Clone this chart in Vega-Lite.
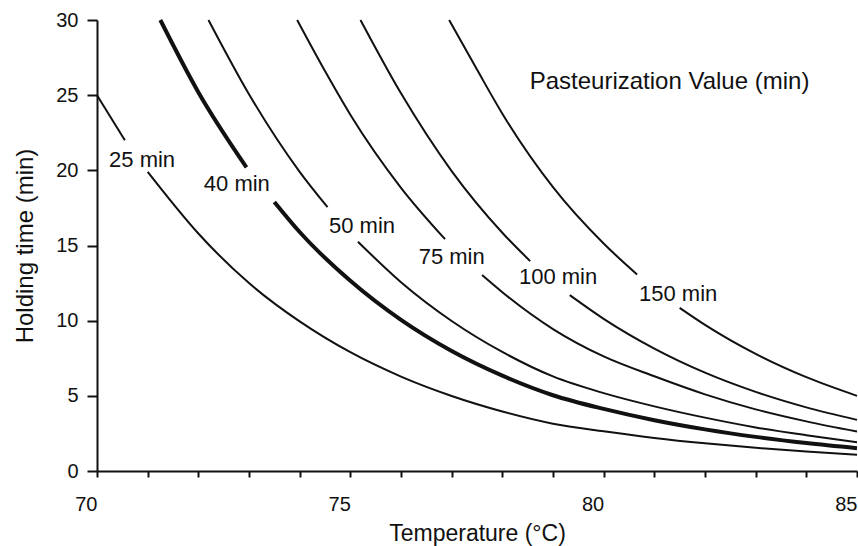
{
  "$schema": "https://vega.github.io/schema/vega-lite/v6.json",
  "width": 760,
  "height": 451,
  "autosize": {"type": "none"},
  "padding": {"left": 97, "top": 20, "right": 1, "bottom": 75},
  "background": "white",
  "config": {"view": {"stroke": null}, "font": "Liberation Sans"},
  "datasets": {
    "curves": [
      {"P": 25, "part": 1, "T": 70, "t": 25},
      {"P": 25, "part": 1, "T": 70.55, "t": 22.0},
      {"P": 25, "part": 2, "T": 71.0, "t": 19.9},
      {"P": 25, "part": 2, "T": 72, "t": 15.8},
      {"P": 25, "part": 2, "T": 73, "t": 12.5},
      {"P": 25, "part": 2, "T": 74, "t": 9.95},
      {"P": 25, "part": 2, "T": 75, "t": 7.9},
      {"P": 25, "part": 2, "T": 76, "t": 6.28},
      {"P": 25, "part": 2, "T": 77, "t": 4.99},
      {"P": 25, "part": 2, "T": 78, "t": 3.96},
      {"P": 25, "part": 2, "T": 79, "t": 3.15},
      {"P": 25, "part": 2, "T": 80, "t": 2.64},
      {"P": 25, "part": 2, "T": 81, "t": 2.2},
      {"P": 25, "part": 2, "T": 82, "t": 1.84},
      {"P": 25, "part": 2, "T": 83, "t": 1.54},
      {"P": 25, "part": 2, "T": 84, "t": 1.29},
      {"P": 25, "part": 2, "T": 85, "t": 1.08},

      {"P": 40, "part": 1, "T": 71.25, "t": 30},
      {"P": 40, "part": 1, "T": 72, "t": 25.2},
      {"P": 40, "part": 1, "T": 72.95, "t": 20.2},
      {"P": 40, "part": 2, "T": 73.5, "t": 17.9},
      {"P": 40, "part": 2, "T": 74, "t": 15.9},
      {"P": 40, "part": 2, "T": 75, "t": 12.65},
      {"P": 40, "part": 2, "T": 76, "t": 10.05},
      {"P": 40, "part": 2, "T": 77, "t": 7.98},
      {"P": 40, "part": 2, "T": 78, "t": 6.34},
      {"P": 40, "part": 2, "T": 79, "t": 5.04},
      {"P": 40, "part": 2, "T": 80, "t": 4.13},
      {"P": 40, "part": 2, "T": 81, "t": 3.38},
      {"P": 40, "part": 2, "T": 82, "t": 2.77},
      {"P": 40, "part": 2, "T": 83, "t": 2.27},
      {"P": 40, "part": 2, "T": 84, "t": 1.86},
      {"P": 40, "part": 2, "T": 85, "t": 1.52},

      {"P": 50, "part": 1, "T": 72.2, "t": 30},
      {"P": 50, "part": 1, "T": 73, "t": 25.06},
      {"P": 50, "part": 1, "T": 74, "t": 19.9},
      {"P": 50, "part": 1, "T": 74.55, "t": 17.55},
      {"P": 50, "part": 2, "T": 75.15, "t": 15.25},
      {"P": 50, "part": 2, "T": 76, "t": 12.56},
      {"P": 50, "part": 2, "T": 77, "t": 9.98},
      {"P": 50, "part": 2, "T": 78, "t": 7.92},
      {"P": 50, "part": 2, "T": 79, "t": 6.29},
      {"P": 50, "part": 2, "T": 80, "t": 5.18},
      {"P": 50, "part": 2, "T": 81, "t": 4.3},
      {"P": 50, "part": 2, "T": 82, "t": 3.55},
      {"P": 50, "part": 2, "T": 83, "t": 2.9},
      {"P": 50, "part": 2, "T": 84, "t": 2.38},
      {"P": 50, "part": 2, "T": 85, "t": 1.92},

      {"P": 75, "part": 1, "T": 73.95, "t": 30},
      {"P": 75, "part": 1, "T": 74.5, "t": 26.6},
      {"P": 75, "part": 1, "T": 75, "t": 23.7},
      {"P": 75, "part": 1, "T": 76, "t": 18.84},
      {"P": 75, "part": 1, "T": 76.87, "t": 15.42},
      {"P": 75, "part": 2, "T": 77.6, "t": 13.03},
      {"P": 75, "part": 2, "T": 78, "t": 11.89},
      {"P": 75, "part": 2, "T": 79, "t": 9.44},
      {"P": 75, "part": 2, "T": 80, "t": 7.62},
      {"P": 75, "part": 2, "T": 81, "t": 6.3},
      {"P": 75, "part": 2, "T": 82, "t": 5.1},
      {"P": 75, "part": 2, "T": 83, "t": 4.1},
      {"P": 75, "part": 2, "T": 84, "t": 3.3},
      {"P": 75, "part": 2, "T": 85, "t": 2.62},

      {"P": 100, "part": 1, "T": 75.2, "t": 30},
      {"P": 100, "part": 1, "T": 76, "t": 25.12},
      {"P": 100, "part": 1, "T": 77, "t": 19.95},
      {"P": 100, "part": 1, "T": 78, "t": 15.85},
      {"P": 100, "part": 1, "T": 78.55, "t": 13.96},
      {"P": 100, "part": 2, "T": 79.33, "t": 11.7},
      {"P": 100, "part": 2, "T": 80, "t": 10.12},
      {"P": 100, "part": 2, "T": 81, "t": 8.14},
      {"P": 100, "part": 2, "T": 82, "t": 6.54},
      {"P": 100, "part": 2, "T": 83, "t": 5.26},
      {"P": 100, "part": 2, "T": 84, "t": 4.23},
      {"P": 100, "part": 2, "T": 85, "t": 3.4},

      {"P": 150, "part": 1, "T": 76.95, "t": 30},
      {"P": 150, "part": 1, "T": 77.5, "t": 26.7},
      {"P": 150, "part": 1, "T": 78, "t": 23.77},
      {"P": 150, "part": 1, "T": 79, "t": 18.88},
      {"P": 150, "part": 1, "T": 80, "t": 15.13},
      {"P": 150, "part": 1, "T": 80.66, "t": 13.07},
      {"P": 150, "part": 2, "T": 81.5, "t": 10.85},
      {"P": 150, "part": 2, "T": 82, "t": 9.72},
      {"P": 150, "part": 2, "T": 83, "t": 7.79},
      {"P": 150, "part": 2, "T": 84, "t": 6.24},
      {"P": 150, "part": 2, "T": 85, "t": 5.0}
    ],
    "labels": [
      {"label": "25 min", "T": 70.89, "t": 20.66},
      {"label": "40 min", "T": 72.76, "t": 19.07},
      {"label": "50 min", "T": 75.23, "t": 16.3},
      {"label": "75 min", "T": 77.0, "t": 14.22},
      {"label": "100 min", "T": 79.1, "t": 12.93},
      {"label": "150 min", "T": 81.47, "t": 11.79}
    ],
    "heading": [
      {"label": "Pasteurization Value (min)", "T": 81.3, "t": 25.9}
    ]
  },
  "encoding": {
    "x": {
      "field": "T",
      "type": "quantitative",
      "scale": {"domain": [70, 85], "nice": false, "zero": false},
      "axis": {
        "title": "Temperature (°C)",
        "values": [70, 71, 72, 73, 74, 75, 76, 77, 78, 79, 80, 81, 82, 83, 84, 85],
        "labelExpr": "datum.value % 5 === 0 ? datum.label : ''",
        "format": "d",
        "grid": false,
        "domainColor": "#111",
        "domainWidth": 2,
        "tickColor": "#111",
        "tickWidth": 2,
        "tickSize": 6,
        "labelAlign": "right",
        "labelPadding": 17,
        "labelFontSize": 20,
        "labelColor": "#111",
        "labelFont": "Liberation Sans",
        "labelOverlap": false,
        "labelFlush": false,
        "titleFont": "Liberation Sans",
        "titleFontSize": 23,
        "titleFontWeight": "normal",
        "titleColor": "#111",
        "titlePadding": 8
      }
    },
    "y": {
      "field": "t",
      "type": "quantitative",
      "scale": {"domain": [0, 30], "nice": false},
      "axis": {
        "title": "Holding time (min)",
        "values": [0, 5, 10, 15, 20, 25, 30],
        "grid": false,
        "domainColor": "#111",
        "domainWidth": 2,
        "tickColor": "#111",
        "tickWidth": 2,
        "tickSize": 10,
        "labelPadding": 9,
        "labelFontSize": 20,
        "labelColor": "#111",
        "labelFont": "Liberation Sans",
        "labelFlush": false,
        "titleFont": "Liberation Sans",
        "titleFontSize": 24,
        "titleFontWeight": "normal",
        "titleColor": "#111",
        "titlePadding": 18
      }
    }
  },
  "layer": [
    {
      "data": {"name": "curves"},
      "transform": [{"filter": "datum.P != 40"}],
      "mark": {"type": "line", "interpolate": "monotone", "color": "#111", "strokeWidth": 2},
      "encoding": {"detail": [{"field": "P"}, {"field": "part"}]}
    },
    {
      "data": {"name": "curves"},
      "transform": [{"filter": "datum.P == 40"}],
      "mark": {"type": "line", "interpolate": "monotone", "color": "#111", "strokeWidth": 4},
      "encoding": {"detail": [{"field": "P"}, {"field": "part"}]}
    },
    {
      "data": {"name": "labels"},
      "mark": {"type": "text", "align": "center", "baseline": "middle", "fontSize": 22, "font": "Liberation Sans", "color": "#111"},
      "encoding": {"text": {"field": "label"}}
    },
    {
      "data": {"name": "heading"},
      "mark": {"type": "text", "align": "center", "baseline": "middle", "fontSize": 24, "font": "Liberation Sans", "color": "#111"},
      "encoding": {"text": {"field": "label"}}
    }
  ]
}
